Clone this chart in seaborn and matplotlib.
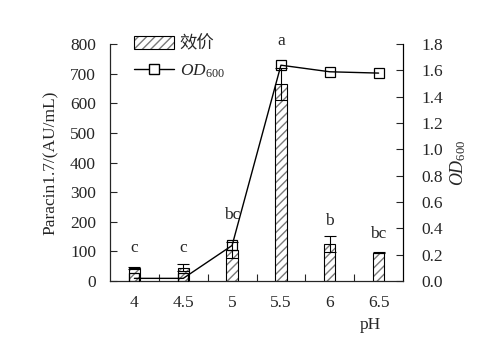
import numpy as np
import pandas as pd
import matplotlib
matplotlib.use('Agg')
import matplotlib.pyplot as plt
import seaborn as sns
from matplotlib.patches import Patch
from matplotlib.lines import Line2D

# data
ph = ['4', '4.5', '5', '5.5', '6', '6.5']
titer = [45, 45, 105, 665, 125, 95]          # Paracin1.7 (AU/mL)
titer_err = [3, 12, 28, 55, 27, 2]
od600 = [0.02, 0.02, 0.27, 1.64, 1.59, 1.58]
letters = ['c', 'c', 'bc', 'a', 'b', 'bc']
letter_y = [111, 111, 223, 810, 203, 159]

sns.set_style('white')
plt.rcParams['font.family'] = ['Liberation Serif', 'Noto Sans CJK SC']
plt.rcParams['mathtext.fontset'] = 'custom'
plt.rcParams['mathtext.it'] = 'Liberation Serif:italic'
plt.rcParams['mathtext.rm'] = 'Liberation Serif'
plt.rcParams['hatch.linewidth'] = 1.0

df = pd.DataFrame({'pH': ph, 'titer': titer})
hatch_gray = '#7a7a7a'

fig = plt.figure(figsize=(4.9, 3.56), dpi=100)
ax = fig.add_axes([0.2245, 0.2107, 0.598, 0.6653])

# hatched fill in gray, then black outline on top
sns.barplot(data=df, x='pH', y='titer', ax=ax, color='white',
            edgecolor=hatch_gray, linewidth=0, width=0.23, hatch='////')
sns.barplot(data=df, x='pH', y='titer', ax=ax, fill=False,
            edgecolor='black', linewidth=0.8, width=0.23)
x = np.arange(len(ph))
ax.errorbar(x, titer, yerr=titer_err, fmt='none', ecolor='black',
            elinewidth=0.8, capsize=4, capthick=0.8, zorder=3)

for xi, t, yy in zip(x, letters, letter_y):
    ax.text(xi, yy, t, ha='center', va='center', fontsize=12.5, clip_on=False)

ax.set_ylim(0, 800)
ax.set_xlim(-0.5, len(ph) - 0.5)
ax.set_yticks(range(0, 801, 100))
ax.set_xticks(x)
ax.set_xticklabels(ph)
ax.set_xticks(x[:-1] + 0.5, minor=True)
ax.tick_params(axis='x', which='major', length=0, pad=10, labelsize=12.5)
ax.tick_params(axis='x', which='minor', direction='in', length=5, width=0.8, bottom=True)
ax.tick_params(axis='y', direction='in', length=5, width=0.8, left=True, labelsize=12.5, pad=10)
ax.set_xlabel('')
ax.set_ylabel('Paracin1.7/(AU/mL)', fontsize=12.5, labelpad=8)
ax.text(4.84, -0.185, 'pH', transform=ax.get_xaxis_transform(), ha='center', va='center', fontsize=12.5)
for s in ['left', 'bottom', 'right']:
    ax.spines[s].set_color('black')
    ax.spines[s].set_linewidth(0.8)
ax.spines['top'].set_visible(False)

ax2 = ax.twinx()
ax2.plot(x, od600, color='black', lw=1, marker='s', ms=7, mfc='none', mec='black', mew=0.9, zorder=4)
ax2.set_ylim(0, 1.8)
ax2.set_yticks(np.arange(0, 1.81, 0.2))
ax2.set_yticklabels([f'{v:.1f}' for v in np.arange(0, 1.81, 0.2)])
ax2.tick_params(axis='y', direction='in', length=5, width=0.8, right=True, labelsize=12.5, pad=13)
ax2.set_ylabel(r'$\mathit{OD}_{\mathrm{600}}$', fontsize=13, labelpad=4)
ax2.spines['top'].set_visible(False)
ax2.spines['right'].set_linewidth(0.8)
ax2.spines['right'].set_color('black')

leg_patch = Patch(facecolor='white', edgecolor=hatch_gray, hatch='////', linewidth=0)
leg_edge = Patch(facecolor='none', edgecolor='black', linewidth=0.8)
leg_line = Line2D([0], [0], color='black', lw=1, marker='s', ms=7, mfc='white', mec='black')
leg = ax2.legend([(leg_patch, leg_edge), leg_line], ['效价', r'$\mathit{OD}_{\mathrm{600}}$'],
                 loc='upper left', bbox_to_anchor=(0.03, 1.10), frameon=False, fontsize=12.5,
                 handlelength=2.3, handleheight=0.8, handletextpad=0.3, labelspacing=0.55)

fig.savefig('out.png', dpi=100)
